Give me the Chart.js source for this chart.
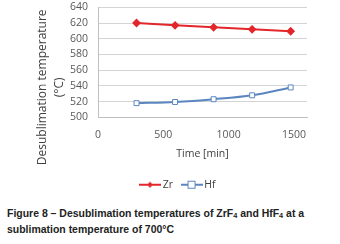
<!DOCTYPE html>
<html>
<head>
<meta charset="utf-8">
<script src="https://cdn.jsdelivr.net/npm/chart.js@4/dist/chart.umd.min.js"></script>
<style>
  html,body{margin:0;padding:0;background:#fff;width:340px;height:244px;overflow:hidden;}
  #wrap{position:absolute;left:0;top:-9px;width:340px;height:209px;}
  .cap{position:absolute;left:7px;top:205px;width:360px;font-family:"Liberation Sans Narrow","Arial Narrow","Liberation Sans",sans-serif;font-weight:bold;font-size:11.5px;line-height:16px;color:#222;transform:scaleX(0.91);transform-origin:0 0;white-space:nowrap;}
  .cap sub{font-size:8px;vertical-align:-1px;line-height:0;}
</style>
</head>
<body>
<div id="wrap"><canvas id="chart"></canvas></div>
<div class="cap">Figure 8 – Desublimation temperatures of ZrF<sub>4</sub> and HfF<sub>4</sub> at a<br>sublimation temperature of 700°C</div>
<script>
/* ===== Data ===== */
const TIME = [295, 590, 885, 1180, 1475];
const ZR = [620, 617, 614.5, 612, 609.5];
const HF = [518, 519.5, 523, 528, 538];
const Y_TICKS = [500, 520, 540, 560, 580, 600, 620, 640];
const X_TICKS = [0, 500, 1000, 1500];
const Y_TITLE = ['Desublimation temperature', '(°C)'];

const RED = '#e3262b';
const BLUE = '#5b86c0';
const FONT = '"Open Sans", Lato, sans-serif';

// small legend swatch: line with marker in the middle
function swatch(color, marker){
  const c = document.createElement('canvas');
  c.width = 22; c.height = 10;
  const g = c.getContext('2d');
  g.strokeStyle = color; g.lineWidth = 2;
  g.beginPath(); g.moveTo(0,5); g.lineTo(22,5); g.stroke();
  if(marker === 'diamond'){
    g.fillStyle = color;
    g.beginPath(); g.moveTo(11,2); g.lineTo(14,5); g.lineTo(11,8); g.lineTo(8,5); g.closePath(); g.fill();
  } else {
    g.fillStyle = '#fff'; g.lineWidth = 1;
    g.fillRect(7.5,1.5,7,7); g.strokeRect(7.5,1.5,7,7);
  }
  return c;
}

// y axis title drawn by hand (Excel puts it lower than the plot centre)
const yTitlePlugin = {
  id:'yTitle',
  afterDraw(chart){
    const c = chart.ctx, a = chart.chartArea;
    c.save();
    c.font = '12px ' + FONT;
    c.fillStyle = '#404040';
    c.textAlign = 'center'; c.textBaseline = 'middle';
    const cy = a.top + 80;
    [[a.left - 55, Y_TITLE[0]], [a.left - 38, Y_TITLE[1]]].forEach(([x, t]) => {
      c.save(); c.translate(x, cy); c.rotate(-Math.PI/2); c.fillText(t, 0, 0); c.restore();
    });
    c.restore();
  }
};

const ctx = document.getElementById('chart').getContext('2d');
new Chart(ctx, {
  type:'line',
  plugins:[yTitlePlugin],
  data:{
    datasets:[
      {label:'Zr', data:TIME.map((t,i)=>({x:t,y:ZR[i]})), borderColor:RED, backgroundColor:RED,
       borderWidth:2, pointStyle:'rectRot', pointRadius:3, tension:0, legendImg:swatch(RED,'diamond')},
      {label:'Hf', data:TIME.map((t,i)=>({x:t,y:HF[i]})), borderColor:BLUE, backgroundColor:'#fff',
       borderWidth:2, pointStyle:'rect', pointRadius:3.5, pointBorderWidth:1, cubicInterpolationMode:'monotone', legendImg:swatch(BLUE,'square')},
    ]
  },
  options:{
    responsive:true, maintainAspectRatio:false, animation:false,
    layout:{padding:{left:51,right:33,top:0,bottom:0}},
    plugins:{
      legend:{position:'bottom',
        labels:{usePointStyle:true, pointStyleWidth:15, boxWidth:15, padding:11, color:'#404040', font:{family:FONT,size:10.5},
          generateLabels(chart){
            return chart.data.datasets.map((d,i)=>({text:d.label, pointStyle:d.legendImg, datasetIndex:i,
              fontColor:'#404040', lineWidth:0, strokeStyle:'transparent', fillStyle:'transparent'}));
          }}},
      tooltip:{enabled:false}
    },
    scales:{
      x:{type:'linear', min:0, max:1600,
        afterBuildTicks(s){ s.ticks = X_TICKS.map(v=>({value:v})); },
        grid:{display:false, drawTicks:false},
        border:{color:'#bfbfbf'},
        ticks:{color:'#595959', font:{family:FONT,size:10.5}, padding:11, autoSkip:false, maxRotation:0, callback:v=>String(v)},
        title:{display:true, text:'Time [min]', color:'#404040', font:{family:FONT,size:10.5}, padding:{top:-4,bottom:8}}
      },
      y:{min:500, max:640,
        afterBuildTicks(s){ s.ticks = Y_TICKS.map(v=>({value:v})); },
        afterFit(s){ s.width = 47; },
        grid:{color:'#d4d4d4', drawTicks:false},
        border:{color:'#bfbfbf'},
        ticks:{color:'#595959', font:{family:FONT,size:10.5}, padding:10, autoSkip:false, callback:v=>String(v)}
      }
    }
  }
});
</script>
</body>
</html>
